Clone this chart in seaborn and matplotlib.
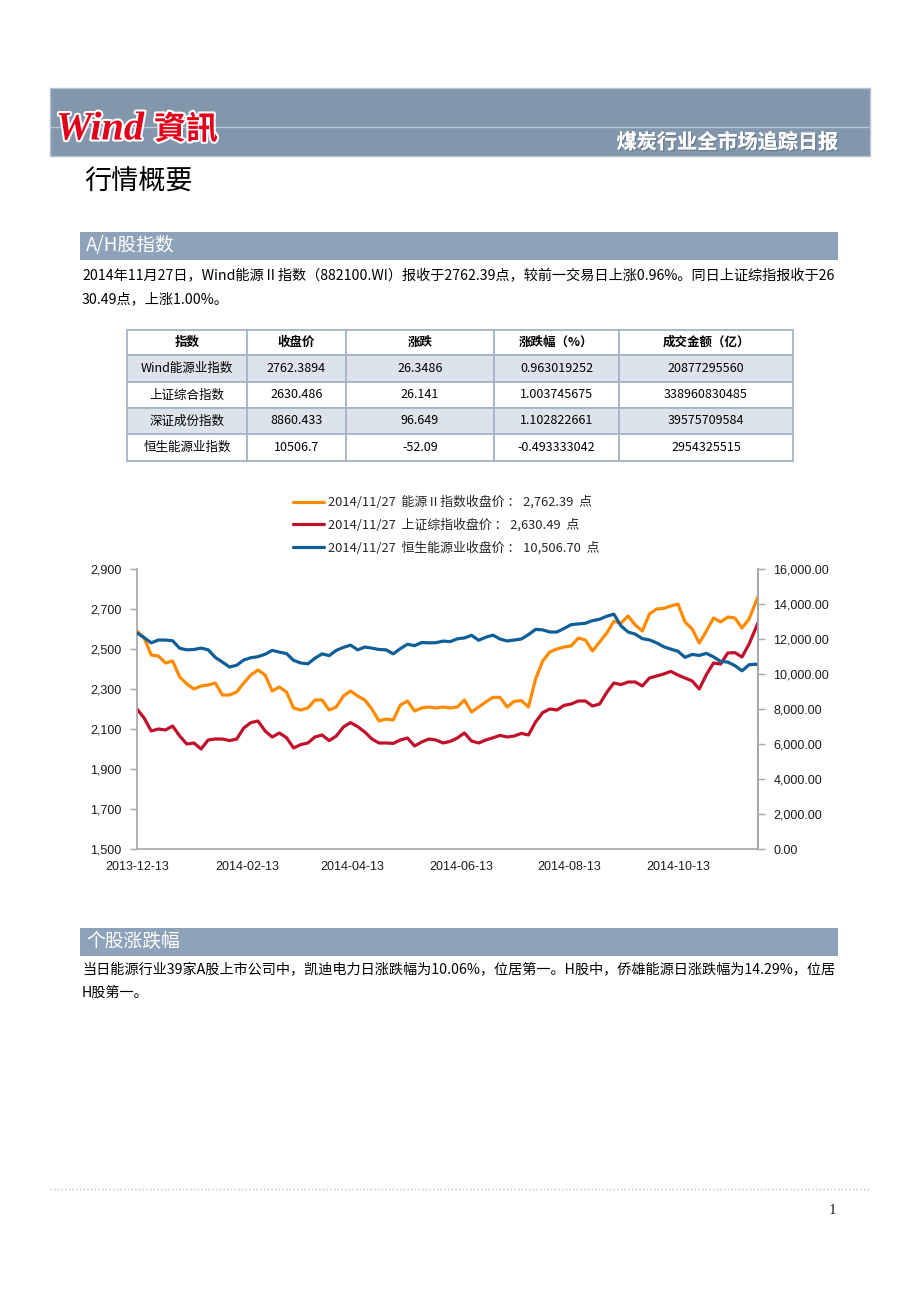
import matplotlib
matplotlib.use("Agg")
import pandas as pd
import matplotlib.pyplot as plt
import matplotlib.dates as mdates
import matplotlib.patheffects as pe
from matplotlib.patches import Rectangle
from matplotlib.ticker import FuncFormatter
import seaborn as sns

dates = [
    "2013-12-13", "2013-12-17", "2013-12-21", "2013-12-25", "2013-12-29", "2014-01-02", "2014-01-06",
    "2014-01-10", "2014-01-14", "2014-01-18", "2014-01-22", "2014-01-26", "2014-01-30", "2014-02-03",
    "2014-02-07", "2014-02-11", "2014-02-15", "2014-02-19", "2014-02-23", "2014-02-27", "2014-03-03",
    "2014-03-07", "2014-03-11", "2014-03-15", "2014-03-19", "2014-03-23", "2014-03-27", "2014-03-31",
    "2014-04-04", "2014-04-08", "2014-04-12", "2014-04-16", "2014-04-20", "2014-04-24", "2014-04-28",
    "2014-05-02", "2014-05-06", "2014-05-10", "2014-05-14", "2014-05-18", "2014-05-22", "2014-05-26",
    "2014-05-30", "2014-06-03", "2014-06-07", "2014-06-11", "2014-06-15", "2014-06-19", "2014-06-23",
    "2014-06-27", "2014-07-01", "2014-07-05", "2014-07-09", "2014-07-13", "2014-07-17", "2014-07-21",
    "2014-07-25", "2014-07-29", "2014-08-02", "2014-08-06", "2014-08-10", "2014-08-14", "2014-08-18",
    "2014-08-22", "2014-08-26", "2014-08-30", "2014-09-03", "2014-09-07", "2014-09-11", "2014-09-15",
    "2014-09-19", "2014-09-23", "2014-09-27", "2014-10-01", "2014-10-05", "2014-10-09", "2014-10-13",
    "2014-10-17", "2014-10-21", "2014-10-25", "2014-10-29", "2014-11-02", "2014-11-06", "2014-11-10",
    "2014-11-14", "2014-11-18", "2014-11-22", "2014-11-26", "2014-11-27",
]
energy_close = [
    2590, 2555, 2470, 2465, 2430, 2440, 2360, 2325, 2300, 2315,
    2320, 2330, 2270, 2270, 2285, 2330, 2370, 2395, 2370, 2290,
    2310, 2285, 2205, 2195, 2205, 2245, 2245, 2195, 2210, 2265,
    2290, 2265, 2245, 2200, 2140, 2150, 2145, 2220, 2240, 2190,
    2205, 2210, 2205, 2210, 2205, 2210, 2245, 2185, 2210, 2235,
    2258, 2258, 2210, 2238, 2242, 2210, 2350, 2440, 2485, 2500,
    2510, 2515, 2555, 2545, 2490, 2535, 2580, 2638, 2630, 2665,
    2620, 2590, 2675, 2700, 2703, 2715, 2725, 2635, 2600, 2530,
    2590, 2655, 2635, 2660, 2655, 2605, 2650, 2740, 2762.39,
]
sh_close = [
    2200, 2155, 2090, 2100, 2095, 2115, 2065, 2025, 2030, 2000,
    2045, 2050, 2050, 2042, 2050, 2105, 2132, 2140, 2090, 2060,
    2080, 2057, 2005, 2022, 2030, 2060, 2070, 2042, 2065, 2110,
    2132, 2112, 2085, 2050, 2030, 2030, 2028, 2045, 2055, 2015,
    2035, 2050, 2045, 2030, 2038, 2055, 2080, 2040, 2030, 2045,
    2056, 2068, 2060, 2065, 2078, 2070, 2135, 2182, 2200, 2195,
    2218, 2225, 2240, 2240, 2215, 2225, 2283, 2330, 2322, 2335,
    2335, 2315, 2355, 2365, 2375, 2388, 2370, 2355, 2340, 2300,
    2372, 2430, 2425, 2480, 2482, 2460, 2525, 2610, 2630.49,
]
hs_energy_close = [
    12350, 12080, 11780, 11940, 11940, 11900, 11470, 11380, 11400, 11480,
    11380, 10950, 10680, 10400, 10500, 10800, 10930, 10990, 11130, 11350,
    11250, 11170, 10780, 10630, 10580, 10900, 11150, 11050, 11350, 11520,
    11650, 11380, 11540, 11480, 11400, 11380, 11150, 11450, 11700, 11620,
    11800, 11780, 11790, 11880, 11850, 12010, 12060, 12210, 11930, 12100,
    12220, 12000, 11890, 11940, 12000, 12250, 12550, 12520, 12400, 12400,
    12600, 12820, 12860, 12900, 13050, 13130, 13300, 13420, 12750, 12400,
    12280, 12020, 11950, 11780, 11560, 11420, 11300, 10950, 11120, 11060,
    11180, 10980, 10720, 10680, 10480, 10180, 10530, 10560, 10506.7,
]
series_labels = [
    "2014/11/27  能源Ⅱ指数收盘价 ： 2,762.39  点",
    "2014/11/27  上证综指收盘价 ： 2,630.49  点",
    "2014/11/27  恒生能源业收盘价 ： 10,506.70  点",
]
xtick_dates = ["2013-12-13", "2014-02-13", "2014-04-13", "2014-06-13", "2014-08-13", "2014-10-13"]
left_ticks = [1500, 1700, 1900, 2100, 2300, 2500, 2700, 2900]
right_ticks = [0, 2000, 4000, 6000, 8000, 10000, 12000, 14000, 16000]

# summary table
table_header = ["指数", "收盘价", "涨跌", "涨跌幅（%）", "成交金额（亿）"]
table_names = ["Wind能源业指数", "上证综合指数", "深证成份指数", "恒生能源业指数"]
table_close = ["2762.3894", "2630.486", "8860.433", "10506.7"]
table_change = ["26.3486", "26.141", "96.649", "-52.09"]
table_pct = ["0.963019252", "1.003745675", "1.102822661", "-0.493333042"]
table_amount = ["20877295560", "338960830485", "39575709584", "2954325515"]

para1 = ["2014年11月27日，Wind能源Ⅱ指数（882100.WI）报收于2762.39点，较前一交易日上涨0.96%。同日上证综指报收于26",
         "30.49点，上涨1.00%。"]
para2 = ["当日能源行业39家A股上市公司中，凯迪电力日涨跌幅为10.06%，位居第一。H股中，侨雄能源日涨跌幅为14.29%，位居",
         "H股第一。"]

sns.set_theme(style="white")
plt.rcParams["font.family"] = ["Noto Sans CJK SC", "DejaVu Sans"]

W, H = 920, 1302
fig = plt.figure(figsize=(W / 100, H / 100), dpi=100)
fig.patch.set_facecolor("white")

# page layer in pixel coordinates
bg = fig.add_axes([0, 0, 1, 1], zorder=0)
bg.set_xlim(0, W)
bg.set_ylim(H, 0)
bg.axis("off")

# header band
bg.add_patch(Rectangle((50, 88), 820, 68, facecolor="#8296AC", edgecolor="#B5C2D0", lw=1))
bg.plot([50, 870], [127, 127], color="#B9C6D3", lw=1)
bg.text(56, 130, "Wind", color="#E3001B", fontsize=29, fontweight="bold", fontstyle="italic",
        family="Liberation Serif", va="center",
        path_effects=[pe.withStroke(linewidth=3, foreground="white")])
bg.text(154, 130, "資訊", color="#E3001B", fontsize=23, fontweight="bold",
        family=["Noto Sans CJK TC", "DejaVu Sans"], va="center",
        path_effects=[pe.withStroke(linewidth=3, foreground="white")])
bg.text(838, 142, "煤炭行业全市场追踪日报", color="white", fontsize=14.5, fontweight="bold",
        ha="right", va="center",
        path_effects=[pe.withSimplePatchShadow(offset=(1, -1), shadow_rgbFace="#5A6B7D", alpha=0.6),
                      pe.Normal()])

bg.text(84, 182, "行情概要", fontsize=19.5, color="black", va="center")


def section_bar(y, title):
    bg.add_patch(Rectangle((80, y), 758, 28, facecolor="#8EA2B9", edgecolor="none"))
    bg.text(86, y + 14, title, color="white", fontsize=13.5, va="center")


section_bar(232, "A/H股指数")
bg.text(82, 276, para1[0], fontsize=10.2, color="black", va="center")
bg.text(82, 299, para1[1], fontsize=10.2, color="black", va="center")

# table
col_edges = [127, 247, 346, 494, 619, 793]
row_edges = [330, 355, 382, 408, 434, 461]
rows = [table_header] + [list(r) for r in zip(table_names, table_close, table_change, table_pct, table_amount)]
for ri, row in enumerate(rows):
    y0, y1 = row_edges[ri], row_edges[ri + 1]
    shade = "#DCE3EB" if ri in (1, 3) else "white"
    for ci, cell in enumerate(row):
        x0, x1 = col_edges[ci], col_edges[ci + 1]
        bg.add_patch(Rectangle((x0, y0), x1 - x0, y1 - y0, facecolor=shade, edgecolor="#A3B4C8", lw=1.3))
        bg.text((x0 + x1) / 2, (y0 + y1) / 2, cell, ha="center", va="center", fontsize=9,
                color="black", fontweight="bold" if ri == 0 else "normal")

# chart
orange, red, blue = "#FF8A00", "#C0102C", "#0F5E97"
df = pd.DataFrame({
    "date": pd.to_datetime(dates),
    "energy": energy_close,
    "sh": sh_close,
    "hs": hs_energy_close,
})

ax = fig.add_axes([137 / W, 1 - 849 / H, 621 / W, 280 / H], zorder=2)
ax.set_facecolor("none")
sns.lineplot(data=df, x="date", y="energy", ax=ax, color=orange, lw=2.3, label=series_labels[0])
sns.lineplot(data=df, x="date", y="sh", ax=ax, color=red, lw=2.3, label=series_labels[1])
ax2 = ax.twinx()
sns.lineplot(data=df, x="date", y="hs", ax=ax2, color=blue, lw=2.3, label=series_labels[2])

ax.set_ylim(1500, 2900)
ax.set_yticks(left_ticks)
ax.yaxis.set_major_formatter(FuncFormatter(lambda v, p: f"{v:,.0f}"))
ax2.set_ylim(0, 16000)
ax2.set_yticks(right_ticks)
ax2.yaxis.set_major_formatter(FuncFormatter(lambda v, p: f"{v:,.2f}"))
ax.set_xlim(pd.Timestamp("2013-12-13"), pd.Timestamp("2014-11-27"))
ax.set_xticks(pd.to_datetime(xtick_dates))
ax.xaxis.set_major_formatter(mdates.DateFormatter("%Y-%m-%d"))
for a in (ax, ax2):
    a.set_xlabel("")
    a.set_ylabel("")
    a.grid(False)
    for s in a.spines.values():
        s.set_color("#A6A6A6")
        s.set_linewidth(1.2)
    a.spines["top"].set_visible(False)
    a.tick_params(direction="out", length=5, width=1, color="#A6A6A6", labelsize=9,
                  labelcolor="#1A1A1A", pad=6)
    for lab in a.get_xticklabels() + a.get_yticklabels():
        lab.set_family(["Liberation Sans", "DejaVu Sans"])
ax.tick_params(axis="x", pad=4)
ax2.spines["left"].set_visible(False)
ax2.spines["bottom"].set_visible(False)

h1, l1 = ax.get_legend_handles_labels()
h2, l2 = ax2.get_legend_handles_labels()
ax.get_legend().remove()
ax2.get_legend().remove()
fig.legend(h1 + h2, l1 + l2, loc="upper left", bbox_to_anchor=(287 / W, 1 - 489 / H),
           frameon=False, fontsize=9.3, handlelength=2.4, handletextpad=0.25, labelspacing=0.72,
           borderpad=0)

section_bar(928, "个股涨跌幅")
bg.text(82, 970, para2[0], fontsize=10.2, color="black", va="center")
bg.text(82, 993, para2[1], fontsize=10.2, color="black", va="center")

# footer
bg.plot([50, 870], [1189, 1189], color="#AFC0D0", lw=1, ls=":")
bg.text(832, 1211, "1", fontsize=11, family="Liberation Serif", color="#222222", ha="center", va="center")

fig.savefig("out.png", dpi=100, facecolor="white")
